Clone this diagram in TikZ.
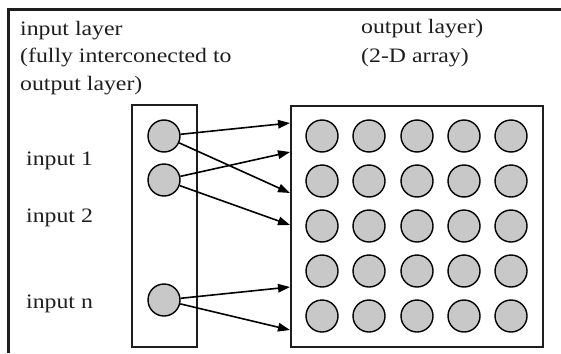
\documentclass[tikz,border=0pt]{standalone}
\usepackage{fontspec}
\setmainfont[FakeStretch=1.16]{Liberation Serif}
\usetikzlibrary{arrows.meta}
\definecolor{nfill}{HTML}{C8C8C8}
\definecolor{ink}{HTML}{1E1E1E}
\begin{document}
\begin{tikzpicture}[x=1pt,y=-1pt,
  lbl/.style={anchor=base west, inner sep=0pt, text=ink, font=\fontsize{20.5}{24}\selectfont},
  neuron/.style={circle, draw=black, line width=1.4pt, fill=nfill, minimum size=32pt, inner sep=0pt},
  conn/.style={line width=1.6pt, -{Triangle[length=12pt,width=8.5pt]}},
  layerbox/.style={draw=ink, line width=1.5pt}]
\useasboundingbox (0,0) rectangle (561,353);
% outer frame
\draw[line width=2.6pt, ink] (8.7,353) -- (8.7,9.5) -- (561,9.5);
% texts
\node[lbl] (t1) at (20,35) {input layer};
\node[lbl] (t2) at (20,62.5) {(fully interconected to};
\node[lbl] (t3) at (20,90) {output layer)};
\node[lbl] (t4) at (361,33.5) {output layer)};
\node[lbl] (t5) at (361,62) {(2-D array)};
\node[lbl] (l1) at (26,165) {input 1};
\node[lbl] (l2) at (26,222) {input 2};
\node[lbl] (ln) at (26,308) {input n};
% layer boxes
\draw[layerbox] (132,105) rectangle (197,347);
\draw[layerbox] (291,106) rectangle (543,347);
% input neurons
\node[neuron] (in1) at (164,136) {};
\node[neuron] (in2) at (164,180) {};
\node[neuron] (inn) at (164,300) {};
% output grid
\foreach \r/\y in {1/136,2/181,3/226,4/271,5/316}
  \foreach \c/\x in {1/322,2/369,3/417,4/464,5/511}
    \node[neuron] (o\r\c) at (\x,\y) {};
% arrow targets on the output box edge
\coordinate (a1) at (290,123);
\coordinate (a2) at (290,152);
\coordinate (a3) at (290,193);
\coordinate (a4) at (290,225);
\coordinate (a5) at (290,287);
\coordinate (a6) at (290,330);
\draw[conn] (in1) -- (a1);
\draw[conn] (in1) -- (a3);
\draw[conn] (in2) -- (a2);
\draw[conn] (in2) -- (a4);
\draw[conn] (inn) -- (a5);
\draw[conn] (inn) -- (a6);
\end{tikzpicture}
\end{document}
